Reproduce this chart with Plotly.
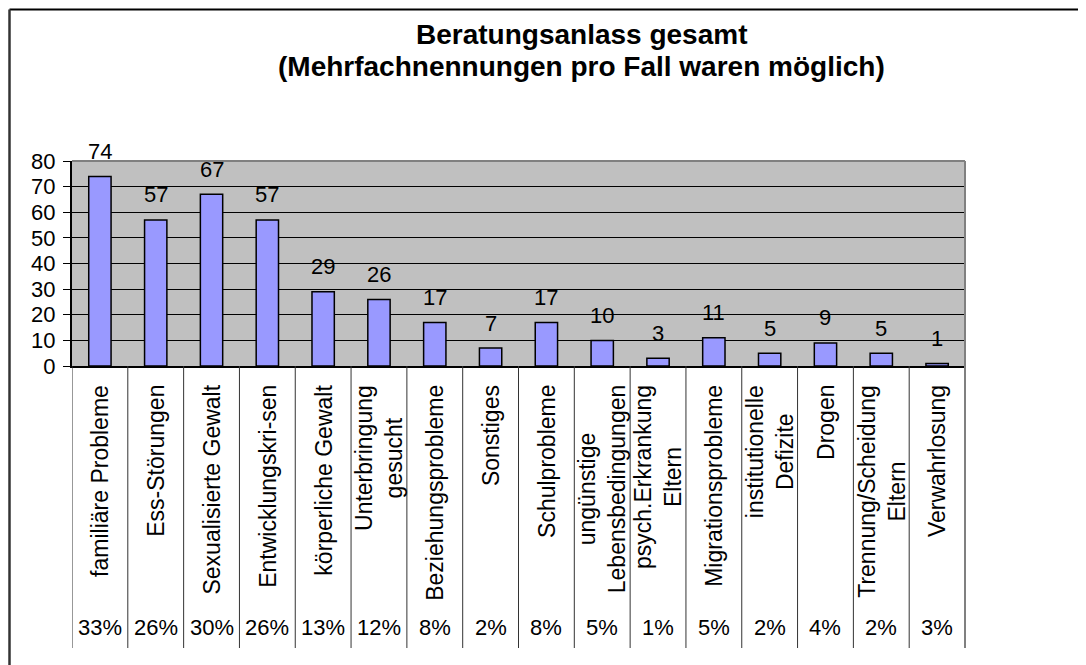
import plotly.graph_objects as go

# data
categories = [
    "familiäre Probleme", "Ess-Störungen", "Sexualisierte Gewalt",
    "Entwicklungskri-sen", "körperliche Gewalt", "Unterbringung<br>gesucht",
    "Beziehungsprobleme", "Sonstiges", "Schulprobleme",
    "ungünstige<br>Lebensbedingungen", "psych.Erkrankung<br>Eltern",
    "Migrationsprobleme", "institutionelle<br>Defizite", "Drogen",
    "Trennung/Scheidung<br>Eltern", "Verwahrlosung",
]
counts = [74, 57, 67, 57, 29, 26, 17, 7, 17, 10, 3, 11, 5, 9, 5, 1]
shares = ["33%", "26%", "30%", "26%", "13%", "12%", "8%", "2%",
          "8%", "5%", "1%", "5%", "2%", "4%", "2%", "3%"]
y_ticks = [0, 10, 20, 30, 40, 50, 60, 70, 80]

title_lines = ["Beratungsanlass gesamt",
               "(Mehrfachnennungen pro Fall waren möglich)"]

FONT = "Liberation Sans, Arial, sans-serif"
# the page body has an 8px margin, so the figure is shrunk and every
# screen position is taken 8px up/left
OFF = 8
W, H = 1086 - OFF, 665 - OFF
# plot area in screen pixels
SL, SR, ST, SB = 72, 965, 161, 366
L, R, T, B = SL - OFF, SR - OFF, ST - OFF, SB - OFF


def px(x):
    return (x - SL) / (SR - SL)


def py(y):
    return (SB - y) / (SB - ST)


fig = go.Figure(
    go.Bar(
        x=categories,
        y=counts,
        marker=dict(color="#9999FF", line=dict(color="#000000", width=1.5)),
        hoverinfo="x+y",
    )
)

annotations = []
# value labels above the bars
for c, v in zip(categories, counts):
    annotations.append(dict(
        x=c, y=v, xref="x", yref="y", text=str(v), showarrow=False,
        yshift=25, yanchor="middle", font=dict(size=22, color="#000000"),
    ))
# rotated category labels in the table under the axis
for c in categories:
    annotations.append(dict(
        x=c, y=py(383), xref="x", yref="paper", text=c, showarrow=False,
        textangle=-90, xanchor="center", yanchor="top", align="center",
        font=dict(size=23, color="#000000"),
    ))
# percentage row
for c, s in zip(categories, shares):
    annotations.append(dict(
        x=c, y=py(627), xref="x", yref="paper", text=s, showarrow=False,
        xanchor="center", yanchor="middle", font=dict(size=22, color="#000000"),
    ))
# title
for i, t in enumerate(title_lines):
    annotations.append(dict(
        x=px(581), y=py(35 + 31 * i), xref="paper", yref="paper", text="<b>%s</b>" % t,
        showarrow=False, xanchor="center", yanchor="middle",
        font=dict(size=28, color="#000000"),
    ))

shapes = []
# vertical separators of the category table
for k in range(len(categories)):
    shapes.append(dict(
        type="line", xref="x", yref="paper", x0=k - 0.5, x1=k - 0.5,
        y0=0, y1=py(648), line=dict(color="#333333", width=1),
    ))
# plot area top / right border (gray)
shapes.append(dict(type="line", xref="paper", yref="paper", x0=0, x1=1, y0=1, y1=1,
                   line=dict(color="#808080", width=2)))
shapes.append(dict(type="line", xref="paper", yref="paper", x0=1, x1=1, y0=py(648), y1=1,
                   line=dict(color="#808080", width=2)))
# outer chart frame (only top and left edges are visible)
shapes.append(dict(type="line", xref="paper", yref="paper", x0=px(9.5), x1=px(1090),
                   y0=py(9.5), y1=py(9.5), line=dict(color="#000000", width=2)))
shapes.append(dict(type="line", xref="paper", yref="paper", x0=px(9.5), x1=px(9.5),
                   y0=py(9.5), y1=py(670), line=dict(color="#333333", width=2.5)))

fig.update_layout(
    width=W, height=H,
    margin=dict(l=L, r=W - R, t=T, b=H - B, pad=0),
    paper_bgcolor="#FFFFFF",
    plot_bgcolor="#C0C0C0",
    bargap=0.6,
    showlegend=False,
    font=dict(family=FONT, color="#000000"),
    annotations=annotations,
    shapes=shapes,
    xaxis=dict(
        showticklabels=False, showgrid=False, zeroline=False,
        showline=True, linecolor="#000000", linewidth=2,
        ticks="", range=[-0.5, len(categories) - 0.5], fixedrange=True,
    ),
    yaxis=dict(
        range=[0, 80], tickvals=y_ticks, ticks="outside", ticklen=7,
        tickcolor="#000000", tickwidth=1, ticklabelstandoff=3,
        showgrid=True, gridcolor="#000000", gridwidth=1, zeroline=False,
        showline=True, linecolor="#000000", linewidth=2,
        tickfont=dict(size=22, color="#000000"), fixedrange=True,
    ),
)

fig.write_html("out.html")
